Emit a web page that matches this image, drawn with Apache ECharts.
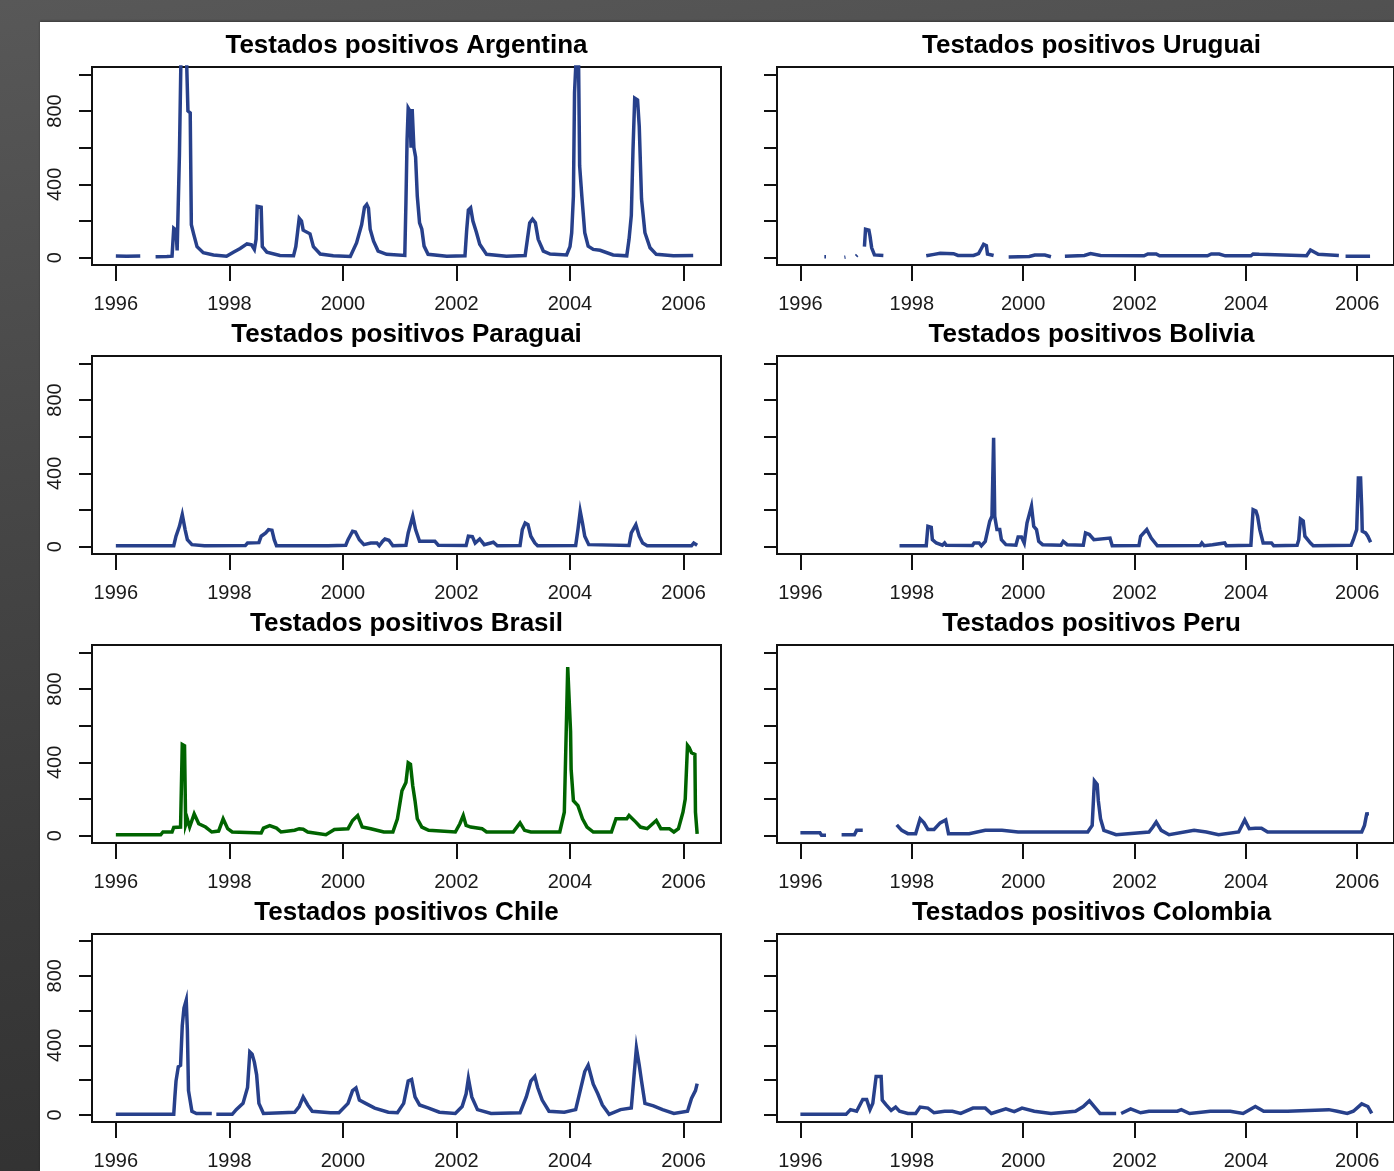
<!DOCTYPE html>
<html>
<head>
<meta charset="utf-8">
<script src="https://cdn.jsdelivr.net/npm/echarts@6/dist/echarts.min.js"></script>
<style>
  html, body { margin: 0; padding: 0; }
  body {
    width: 1394px; height: 1171px; overflow: hidden; position: relative;
    background: linear-gradient(172deg, #585858 0%, #474747 35%, #3a3a3a 65%, #2e2e2e 100%);
  }
  #panel { position: absolute; left: 40px; top: 22px; right: 0; bottom: 0; background: #ffffff;
           box-shadow: 0 -1px 2px rgba(0,0,0,0.35); }
  #chart { position: absolute; left: 0; top: 0; width: 1394px; height: 1171px; }
</style>
</head>
<body>
<div id="panel"></div>
<div id="chart"></div>
<script>
// ---- tick labels / categories ----
const xTickYears = [1996, 1998, 2000, 2002, 2004, 2006];
const yTickValues = [0, 200, 400, 600, 800, 1000];
const yTickLabels = [0, 400, 800];
const panelTitles = [
  'Testados positivos Argentina', 'Testados positivos Uruguai',
  'Testados positivos Paraguai', 'Testados positivos Bolivia',
  'Testados positivos Brasil', 'Testados positivos Peru',
  'Testados positivos Chile', 'Testados positivos Colombia'
];

// ---- series values: [decimal year, positives]; '-' marks missing weeks ----
const argentina = [
  [1996.00,9],[1996.19,8],[1996.43,9],[1996.55,'-'],[1996.70,5],[1996.90,6],[1996.99,8],
  [1997.02,160],[1997.06,150],[1997.08,40],[1997.12,560],[1997.15,1150],[1997.24,1150],
  [1997.27,800],[1997.31,790],[1997.33,180],[1997.37,130],[1997.43,60],[1997.54,27],
  [1997.72,15],[1997.95,8],[1998.07,30],[1998.19,50],[1998.31,75],[1998.39,70],[1998.44,45],
  [1998.47,100],[1998.49,280],[1998.56,275],[1998.58,60],[1998.66,30],[1998.89,12],
  [1999.13,10],[1999.17,60],[1999.20,136],[1999.23,215],[1999.27,200],[1999.30,150],
  [1999.42,130],[1999.48,60],[1999.60,20],[1999.83,10],[2000.13,6],[2000.24,80],
  [2000.33,180],[2000.38,275],[2000.42,290],[2000.45,270],[2000.48,155],[2000.54,90],
  [2000.62,36],[2000.77,18],[2001.09,12],[2001.11,300],[2001.13,640],[2001.15,816],
  [2001.18,800],[2001.20,600],[2001.22,810],[2001.25,600],[2001.28,550],[2001.31,335],
  [2001.35,190],[2001.39,155],[2001.43,63],[2001.50,18],[2001.83,8],[2002.15,10],
  [2002.18,150],[2002.21,260],[2002.25,272],[2002.29,200],[2002.35,140],[2002.41,73],
  [2002.53,18],[2002.88,8],[2003.21,12],[2003.25,100],[2003.29,190],[2003.34,210],
  [2003.39,190],[2003.44,100],[2003.53,36],[2003.65,20],[2003.94,15],[2004.00,60],
  [2004.03,136],[2004.06,335],[2004.08,900],[2004.11,1100],[2004.15,1100],[2004.17,500],
  [2004.21,330],[2004.26,136],[2004.32,63],[2004.41,45],[2004.53,40],[2004.76,15],
  [2005.00,10],[2005.04,100],[2005.08,230],[2005.11,590],[2005.14,870],[2005.19,860],
  [2005.22,716],[2005.26,320],[2005.32,136],[2005.41,54],[2005.52,18],[2005.82,10],
  [2006.17,12]
];
const uruguai = [
  [1996.43,5],[1996.46,5],[1996.6,'-'],[1996.79,2],[1996.81,3],[1996.9,'-'],
  [1997.00,8],[1997.02,14],[1997.08,'-'],[1997.15,60],[1997.17,155],[1997.23,150],
  [1997.25,118],[1997.28,54],[1997.33,15],[1997.49,12],[1997.9,'-'],
  [1998.26,10],[1998.40,18],[1998.51,24],[1998.75,22],[1998.83,12],[1999.11,12],
  [1999.20,22],[1999.25,50],[1999.29,73],[1999.34,65],[1999.36,20],[1999.47,12],
  [1999.6,'-'],[1999.74,4],[2000.11,6],[2000.21,14],[2000.39,14],[2000.50,5],
  [2000.62,'-'],[2000.75,8],[2001.10,12],[2001.21,22],[2001.39,12],[2002.17,10],
  [2002.24,20],[2002.39,20],[2002.45,10],[2003.31,10],[2003.38,20],[2003.52,20],
  [2003.63,10],[2004.09,10],[2004.13,20],[2004.24,18],[2005.09,10],[2005.16,42],
  [2005.30,18],[2005.52,15],[2005.67,12],[2005.73,'-'],[2005.79,8],[2006.23,8]
];
const paraguai = [
  [1996.00,5],[1997.02,5],[1997.06,57],[1997.12,111],[1997.17,175],[1997.20,170],
  [1997.22,93],[1997.26,38],[1997.34,11],[1997.56,5],[1997.58,15],[1997.60,5],
  [1998.28,6],[1998.32,20],[1998.52,22],[1998.56,57],[1998.64,75],[1998.69,93],
  [1998.75,90],[1998.79,38],[1998.83,5],[1999.68,5],[1999.70,12],[1999.74,5],
  [2000.05,8],[2000.09,38],[2000.17,84],[2000.22,80],[2000.29,38],[2000.37,11],
  [2000.49,20],[2000.60,20],[2000.64,5],[2000.70,30],[2000.74,42],[2000.81,35],
  [2000.88,5],[2001.11,8],[2001.15,75],[2001.23,166],[2001.28,93],[2001.35,29],
  [2001.62,29],[2001.68,8],[2002.17,6],[2002.21,57],[2002.28,55],[2002.33,20],
  [2002.41,42],[2002.49,11],[2002.65,24],[2002.72,5],[2003.12,6],[2003.16,93],
  [2003.21,129],[2003.26,120],[2003.31,57],[2003.38,20],[2003.43,5],[2004.10,6],
  [2004.14,93],[2004.18,193],[2004.22,129],[2004.26,57],[2004.33,11],[2005.04,6],
  [2005.08,75],[2005.16,120],[2005.22,57],[2005.28,20],[2005.36,5],[2006.14,5],
  [2006.18,20],[2006.24,8]
];
const bolivia = [
  [1997.78,5],[1998.26,5],[1998.29,111],[1998.35,105],[1998.37,38],[1998.44,20],
  [1998.55,8],[1998.59,20],[1998.62,8],[1999.09,6],[1999.12,20],[1999.21,20],
  [1999.25,5],[1999.32,29],[1999.40,139],[1999.44,166],[1999.47,594],[1999.49,166],
  [1999.53,93],[1999.58,93],[1999.61,38],[1999.69,11],[1999.87,8],[1999.91,53],
  [1999.97,53],[2000.02,20],[2000.07,130],[2000.15,221],[2000.19,111],[2000.24,93],
  [2000.28,29],[2000.35,11],[2000.68,8],[2000.72,29],[2000.79,11],[2001.08,8],
  [2001.12,75],[2001.19,66],[2001.27,38],[2001.30,47],[2001.56,47],[2001.60,5],
  [2002.08,6],[2002.11,57],[2002.22,93],[2002.30,47],[2002.41,5],[2003.18,6],
  [2003.21,20],[2003.25,5],[2003.40,10],[2003.43,20],[2003.62,20],[2003.65,5],
  [2004.09,8],[2004.13,202],[2004.18,195],[2004.21,166],[2004.25,93],[2004.31,20],
  [2004.46,20],[2004.50,5],[2004.92,8],[2004.95,38],[2004.98,151],[2005.03,140],
  [2005.06,57],[2005.16,20],[2005.21,5],[2005.89,8],[2005.93,38],[2005.99,93],
  [2006.02,375],[2006.06,375],[2006.08,211],[2006.09,84],[2006.15,75],[2006.19,57],
  [2006.24,24]
];
const brasil = [
  [1996.00,5],[1996.24,5],[1996.26,15],[1996.29,5],[1996.79,5],[1996.83,20],
  [1996.99,20],[1997.02,45],[1997.14,47],[1997.17,497],[1997.21,490],[1997.23,60],
  [1997.26,90],[1997.30,47],[1997.38,119],[1997.46,65],[1997.58,47],[1997.69,20],
  [1997.81,25],[1997.89,92],[1997.97,38],[1998.05,20],[1998.56,15],[1998.60,41],
  [1998.71,55],[1998.83,41],[1998.91,20],[1999.15,30],[1999.23,38],[1999.30,35],
  [1999.38,20],[1999.70,5],[1999.85,34],[2000.09,38],[2000.17,83],[2000.26,110],
  [2000.34,47],[2000.49,38],[2000.72,20],[2000.88,20],[2000.96,92],[2001.04,245],
  [2001.11,290],[2001.15,398],[2001.19,390],[2001.23,272],[2001.27,191],[2001.31,92],
  [2001.39,47],[2001.51,29],[2001.98,20],[2002.06,65],[2002.12,110],[2002.17,56],
  [2002.25,47],[2002.45,38],[2002.53,20],[2003.00,20],[2003.12,70],[2003.20,29],
  [2003.31,20],[2003.82,20],[2003.90,128],[2003.96,920],[2003.98,910],[2004.01,569],
  [2004.02,362],[2004.06,191],[2004.14,164],[2004.22,92],[2004.30,47],[2004.41,20],
  [2004.73,20],[2004.81,92],[2005.00,92],[2005.04,110],[2005.16,74],[2005.24,47],
  [2005.36,38],[2005.52,83],[2005.60,38],[2005.75,38],[2005.83,20],[2005.91,38],
  [2005.99,128],[2006.03,200],[2006.07,492],[2006.10,480],[2006.14,452],[2006.20,443],
  [2006.21,128],[2006.24,10]
];
const peru = [
  [1996.00,16],[1996.35,16],[1996.38,2],[1996.46,2],[1996.6,'-'],[1996.74,5],
  [1996.97,5],[1997.01,29],[1997.12,29],[1997.4,'-'],[1997.73,59],[1997.82,29],
  [1997.93,11],[1998.07,11],[1998.15,92],[1998.22,70],[1998.29,34],[1998.40,34],
  [1998.51,70],[1998.61,86],[1998.66,11],[1999.03,11],[1999.32,29],[1999.62,29],
  [1999.91,20],[2001.16,20],[2001.24,56],[2001.28,299],[2001.33,280],[2001.35,191],
  [2001.39,92],[2001.45,29],[2001.67,5],[2002.26,20],[2002.33,47],[2002.39,74],
  [2002.48,29],[2002.62,5],[2003.07,29],[2003.29,20],[2003.51,5],[2003.87,20],
  [2003.98,86],[2004.06,38],[2004.17,41],[2004.28,41],[2004.39,20],[2006.08,20],
  [2006.13,56],[2006.17,119],[2006.21,120]
];
const chile = [
  [1996.00,4],[1997.02,4],[1997.04,104],[1997.06,195],[1997.10,277],[1997.14,286],
  [1997.17,514],[1997.20,614],[1997.24,660],[1997.26,487],[1997.28,140],[1997.34,22],
  [1997.42,9],[1997.69,9],[1997.73,'-'],[1997.77,4],[1998.05,4],[1998.12,31],
  [1998.24,67],[1998.32,158],[1998.36,363],[1998.40,350],[1998.44,304],[1998.48,231],
  [1998.52,67],[1998.60,9],[1999.15,16],[1999.23,49],[1999.30,104],[1999.38,58],
  [1999.46,22],[1999.78,13],[1999.93,13],[2000.09,67],[2000.17,140],[2000.23,155],
  [2000.29,86],[2000.40,67],[2000.56,40],[2000.80,16],[2000.96,13],[2001.07,67],
  [2001.15,195],[2001.21,204],[2001.27,104],[2001.35,58],[2001.51,40],[2001.70,16],
  [2001.98,9],[2002.10,49],[2002.17,122],[2002.21,210],[2002.27,104],[2002.37,31],
  [2002.61,9],[2003.12,13],[2003.23,104],[2003.31,195],[2003.38,222],[2003.43,158],
  [2003.51,86],[2003.63,22],[2003.90,16],[2004.10,31],[2004.18,140],[2004.26,250],
  [2004.32,286],[2004.41,177],[2004.49,122],[2004.57,58],[2004.69,4],[2004.89,31],
  [2005.08,40],[2005.12,195],[2005.17,386],[2005.22,286],[2005.26,195],[2005.32,67],
  [2005.47,53],[2005.63,31],[2005.83,9],[2006.07,22],[2006.14,95],[2006.21,140],
  [2006.24,180]
];
const colombia = [
  [1996.00,4],[1996.82,4],[1996.90,31],[1997.01,22],[1997.12,89],[1997.19,89],
  [1997.25,31],[1997.30,67],[1997.36,222],[1997.45,222],[1997.47,86],[1997.54,58],
  [1997.63,27],[1997.71,46],[1997.78,22],[1997.93,9],[1998.07,9],[1998.15,46],
  [1998.29,40],[1998.40,13],[1998.59,22],[1998.73,22],[1998.88,9],[1999.10,40],
  [1999.32,40],[1999.43,9],[1999.69,35],[1999.84,20],[1999.98,40],[2000.20,22],
  [2000.50,9],[2000.94,22],[2001.08,49],[2001.19,82],[2001.30,40],[2001.38,9],
  [2001.67,9],[2001.71,'-'],[2001.76,9],[2001.93,35],[2002.11,13],[2002.26,22],
  [2002.77,22],[2002.84,31],[2002.99,9],[2003.36,22],[2003.72,22],[2003.95,9],
  [2004.17,49],[2004.32,22],[2004.75,22],[2005.49,31],[2005.64,22],[2005.82,9],
  [2005.93,22],[2006.08,64],[2006.19,49],[2006.26,9]
];
const seriesData = [argentina, uruguai, paraguai, bolivia, brasil, peru, chile, colombia];
const seriesColors = ['#27408B','#27408B','#27408B','#27408B','#006400','#27408B','#27408B','#27408B'];

// ---- layout ----
const colLeft = [92, 777];
const plotW = 629, plotH = 198;
const rowTop = [67, 356, 645, 934];
const FONT = '"Liberation Sans", Arial, sans-serif';

const grids = [], xAxes = [], yAxes = [], series = [], graphics = [];
for (let i = 0; i < 8; i++) {
  const col = i % 2, row = Math.floor(i / 2);
  grids.push({
    left: colLeft[col], top: rowTop[row], width: plotW, height: plotH,
    show: true, borderColor: '#111', borderWidth: 2, backgroundColor: 'transparent'
  });
  xAxes.push({
    type: 'value', gridIndex: i, min: 1995.58, max: 2006.66, position: 'bottom',
    axisLine: { show: false, onZero: false },
    splitLine: { show: false },
    axisTick: { show: true, inside: false, length: 16, customValues: xTickYears,
                lineStyle: { color: '#111', width: 2 } },
    axisLabel: { show: true, customValues: xTickYears, margin: 29, fontSize: 20,
                 color: '#1a1a1a', fontFamily: FONT, formatter: v => String(v) }
  });
  yAxes.push({
    type: 'value', gridIndex: i, min: -40, max: 1040,
    axisLine: { show: false },
    splitLine: { show: false },
    axisTick: { show: true, inside: false, length: 13, customValues: yTickValues,
                lineStyle: { color: '#111', width: 2 } },
    axisLabel: { show: col === 0, customValues: yTickLabels, rotate: 90, margin: 27,
                 fontSize: 20, color: '#1a1a1a', fontFamily: FONT }
  });
  series.push({
    type: 'line', xAxisIndex: i, yAxisIndex: i, data: seriesData[i],
    showSymbol: false, symbol: 'none', connectNulls: false, clip: true,
    lineStyle: { color: seriesColors[i], width: 3.5, join: 'miter', cap: 'butt' },
    silent: true
  });
  graphics.push({
    type: 'text', x: colLeft[col] + plotW / 2, y: rowTop[row] - 21,
    style: { text: panelTitles[i], fontSize: 26, fontWeight: 'bold', fontFamily: FONT,
             fill: '#000', align: 'center', verticalAlign: 'middle' }
  });
}

const chart = echarts.init(document.getElementById('chart'), null, { renderer: 'canvas' });
chart.setOption({
  animation: false,
  backgroundColor: 'transparent',
  grid: grids, xAxis: xAxes, yAxis: yAxes, series: series,
  graphic: graphics
});
</script>
</body>
</html>
